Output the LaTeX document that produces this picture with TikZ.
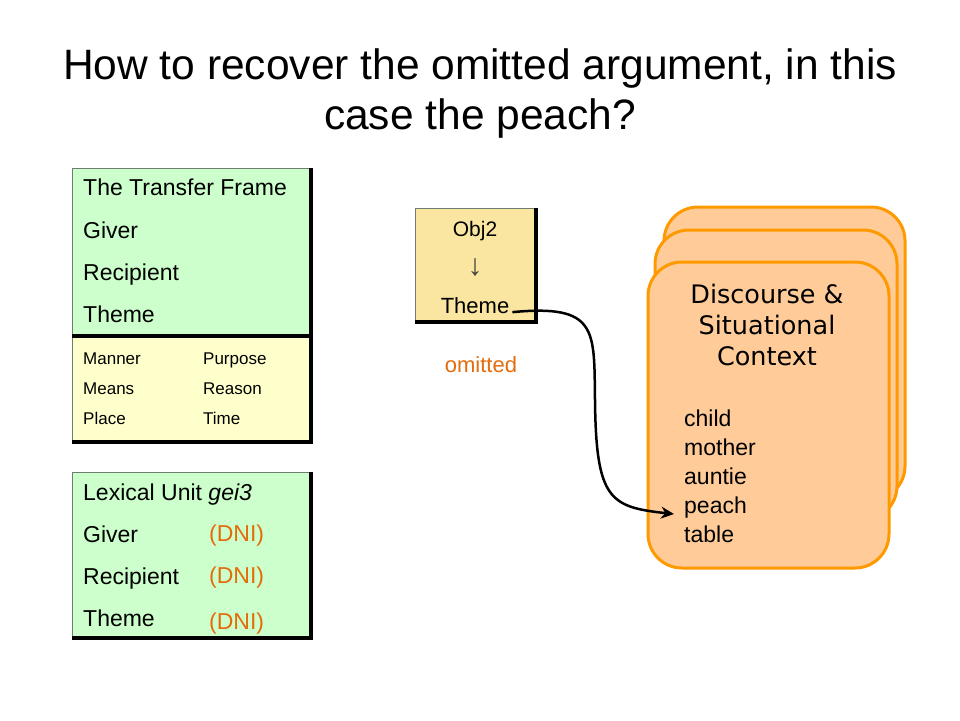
\documentclass[tikz,border=0pt]{standalone}
\usepackage{fontspec}
\setmainfont{Liberation Sans}
\newfontfamily\djv{DejaVu Sans}
\usetikzlibrary{arrows.meta}
\definecolor{framegreen}{HTML}{CCFFCC}
\definecolor{frameyellow}{HTML}{FFFFCC}
\definecolor{objyellow}{HTML}{FAE6A0}
\definecolor{edgegray}{HTML}{6E7E6E}
\definecolor{cardfill}{HTML}{FFCC99}
\definecolor{cardedge}{HTML}{FF9900}
\definecolor{dniorange}{HTML}{E46C0A}
\tikzset{
  big/.style={font=\fontsize{23}{23}\selectfont, inner sep=0pt, anchor=base west},
  small/.style={font=\fontsize{17}{17}\selectfont, inner sep=0pt, anchor=base west},
  dni/.style={big, text=dniorange},
  card/.style={draw=cardedge, fill=cardfill, line width=3pt, rounded corners=34pt},
  shadowline/.style={line width=4.5pt, black},
  thinedge/.style={line width=1pt, edgegray},
}
\begin{document}
\begin{tikzpicture}[x=1pt,y=-1pt]
\useasboundingbox (0,0) rectangle (960,720);
\fill[white] (0,0) rectangle (960,720);
% title
\node[font=\fontsize{42.5}{50}\selectfont, align=center, inner sep=0pt, anchor=base] (title) at (480,129)
  {How to recover the omitted argument, in this\\case the peach?};
% transfer frame box
\fill[framegreen] (72,168) rectangle (310,336);
\fill[frameyellow] (72,336) rectangle (310,442);
\draw[thinedge] (72,442) -- (72,168) -- (310,168);
\draw[shadowline] (72,336) -- (313,336);
\draw[shadowline] (311,168) -- (311,444);
\draw[shadowline] (72,442) -- (313,442);
\node[big] (tf) at (83,195) {The Transfer Frame};
\node[big] (tfg) at (83,238) {Giver};
\node[big] (tfr) at (83,280) {Recipient};
\node[big] (tft) at (83,322) {Theme};
\node[small] (man) at (83,364) {Manner};
\node[small] (mea) at (83,394) {Means};
\node[small] (pla) at (83,424) {Place};
\node[small] (pur) at (203,364) {Purpose};
\node[small] (rea) at (203,394) {Reason};
\node[small] (tim) at (203,424) {Time};
% lexical unit box
\fill[framegreen] (72,472) rectangle (310,638);
\draw[thinedge] (72,638) -- (72,472) -- (310,472);
\draw[shadowline] (311,472) -- (311,640);
\draw[shadowline] (72,638) -- (313,638);
\node[big] (lu) at (83,500) {Lexical Unit \textit{gei3}};
\node[big] (lug) at (83,542) {Giver};
\node[big] (lur) at (83,584) {Recipient};
\node[big] (lut) at (83,626) {Theme};
\node[dni] (d1) at (209,541) {(DNI)};
\node[dni] (d2) at (209,583) {(DNI)};
\node[dni] (d3) at (209,629) {(DNI)};
% Obj2 box
\fill[objyellow] (415,208) rectangle (535,322);
\draw[thinedge] (415,322) -- (415,208) -- (535,208);
\draw[shadowline] (536,208) -- (536,324);
\draw[shadowline] (415,322) -- (538,322);
\node[font=\fontsize{21}{21}\selectfont, inner sep=0pt, anchor=base] (obj) at (475,236) {Obj2};
\node[font=\fontsize{30}{30}\selectfont, inner sep=0pt, text=black!75] (darr) at (475,268) {↓};
\node[font=\fontsize{22}{22}\selectfont, inner sep=0pt, anchor=base] (oth) at (475,313) {Theme};
\node[font=\fontsize{22}{22}\selectfont, inner sep=0pt, anchor=base, text=dniorange] (omit) at (481,372) {omitted};
% context cards
\draw[card] (664,207) rectangle (905,500);
\draw[card] (655,230) rectangle (897,520);
\draw[card] (648,262) rectangle (889,568);
\node[font=\djv\fontsize{25.5}{31}\selectfont, align=center, inner sep=0pt, anchor=base] (ctx) at (767,365)
  {Discourse \&\\Situational\\Context};
\node[big] (c1) at (684,426) {child};
\node[big] (c2) at (684,455) {mother};
\node[big] (c3) at (684,484) {auntie};
\node[big] (c4) at (684,513) {peach};
\node[big] (c5) at (684,542) {table};
% connector
\draw[line width=2.5pt, -{Stealth[length=13pt,width=12pt]}]
  ([xshift=3pt,yshift=-7pt]oth.east) .. controls (598,304) and (594,330) .. (595,400)
  .. controls (596,500) and (610,507) .. ([xshift=-10pt,yshift=-7pt]c4.west);
\end{tikzpicture}
\end{document}
